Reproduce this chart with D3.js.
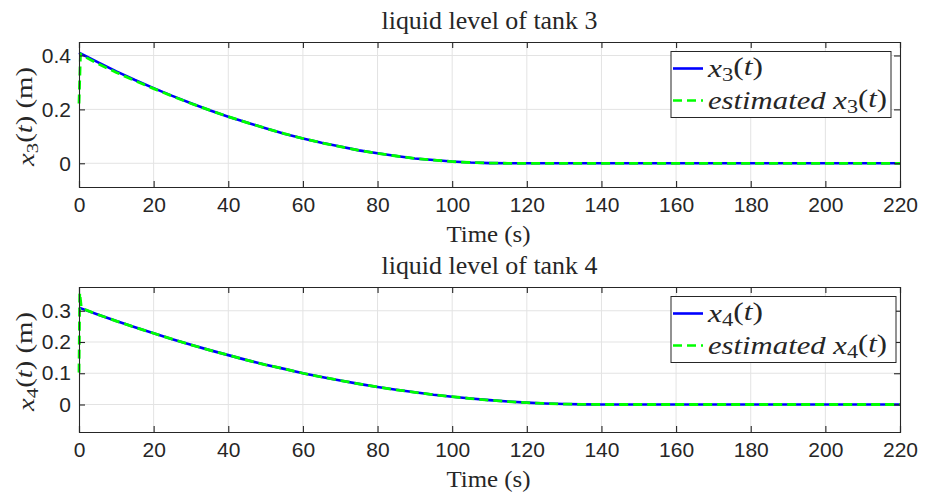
<!DOCTYPE html>
<html lang="en">
<head>
<meta charset="utf-8">
<title>liquid level of tanks 3 and 4</title>
<script src="https://cdn.jsdelivr.net/npm/d3@7/dist/d3.min.js"></script>
<style>
    body { margin: 0; background: #fff; }
    .tick-label { font-family: "Liberation Sans", Arial, sans-serif; font-size: 21px; fill: #262626; }
    .serif { font-family: "Liberation Serif", "Times New Roman", serif; fill: #262626; }
</style>
</head>
<body>
<svg id="chart" width="934" height="493"></svg>
<script>
// sample times (s)
const time = [0, 5, 10, 15, 20, 25, 30, 35, 40, 45, 50, 55, 60, 65, 70, 75, 80, 85, 90, 95,
    100, 105, 110, 115, 120, 125, 130, 135, 140, 145, 150, 155, 160, 165, 170, 175, 180,
    185, 190, 195, 200, 205, 210, 215, 220];

// tank 3 level (m)
const x3 = [0.410, 0.375, 0.341, 0.309, 0.279, 0.250, 0.223, 0.197, 0.173, 0.151, 0.130,
    0.110, 0.092, 0.076, 0.062, 0.048, 0.037, 0.027, 0.018, 0.012, 0.0064, 0.0027, 0.0006,
    0, 0, 0, 0, 0, 0, 0, 0, 0, 0, 0, 0, 0, 0, 0, 0, 0, 0, 0, 0, 0, 0];

// tank 4 level (m)
const x4 = [0.310, 0.288, 0.267, 0.247, 0.228, 0.209, 0.191, 0.174, 0.158, 0.142, 0.127,
    0.114, 0.100, 0.088, 0.077, 0.066, 0.056, 0.047, 0.039, 0.031, 0.025, 0.019, 0.014,
    0.0094, 0.0059, 0.0032, 0.0014, 0.0003, 0, 0, 0, 0, 0, 0, 0, 0, 0, 0, 0, 0, 0, 0, 0, 0, 0];

// observer estimates (with the initial transient near t = 0)
const estTime3 = [0, 0.4, 2, 5, 10, 15, 20, 25, 30, 35, 40, 45, 50, 55, 60, 65, 70, 75, 80,
    85, 90, 95, 100, 105, 110, 115, 120, 140, 160, 180, 200, 220];
const est3 = [0.222, 0.405, 0.392, 0.370, 0.337, 0.306, 0.277, 0.249, 0.222, 0.197, 0.173,
    0.151, 0.130, 0.110, 0.092, 0.076, 0.062, 0.048, 0.037, 0.027, 0.018, 0.012, 0.0064,
    0.0027, 0.0006, 0, 0, 0, 0, 0, 0, 0];

const estTime4 = [0, 0.2, 0.6, 2, 5, 10, 15, 20, 25, 30, 35, 40, 45, 50, 55, 60, 65, 70, 75,
    80, 85, 90, 95, 100, 105, 110, 115, 120, 125, 130, 135, 140, 160, 180, 200, 220];
const est4 = [0.102, 0.357, 0.312, 0.302, 0.288, 0.267, 0.247, 0.228, 0.209, 0.191, 0.174,
    0.158, 0.142, 0.127, 0.114, 0.100, 0.088, 0.077, 0.066, 0.056, 0.047, 0.039, 0.031,
    0.025, 0.019, 0.014, 0.0094, 0.0059, 0.0032, 0.0014, 0.0003, 0, 0, 0, 0, 0];

const xTicks = [0, 20, 40, 60, 80, 100, 120, 140, 160, 180, 200, 220];

const panels = [
    { title: "liquid level of tank 3", sub: "3", top: 42, bottom: 187,
      yDomain: [-0.088, 0.45], yTicks: [0, 0.2, 0.4], legendW: 220,
      series: x3, estT: estTime3, est: est3 },
    { title: "liquid level of tank 4", sub: "4", top: 287, bottom: 432,
      yDomain: [-0.088, 0.376], yTicks: [0, 0.1, 0.2, 0.3], legendW: 225,
      series: x4, estT: estTime4, est: est4 }
];

const left = 79, right = 900;
const svg = d3.select("#chart");
const axisColor = "#262626";
const gridColor = "#e3e3e3";

// math label: x_k(t) with italic x, t and upright subscript
function mathLabel(sel, prefix, sub, suffix) {
    if (prefix) sel.append("tspan").attr("font-style", "italic").text(prefix);
    sel.append("tspan").attr("font-style", "italic").text("x");
    sel.append("tspan").attr("font-size", "0.72em").attr("dy", "0.25em").text(sub);
    sel.append("tspan").attr("dy", "-0.25em").text("(");
    sel.append("tspan").attr("font-style", "italic").text("t");
    sel.append("tspan").text(")" + (suffix || ""));
}

panels.forEach(function (p, i) {
    const x = d3.scaleLinear().domain([0, 220]).range([left, right]);
    const y = d3.scaleLinear().domain(p.yDomain).range([p.bottom, p.top]);
    const g = svg.append("g");

    // grid
    g.append("g").selectAll("line").data(xTicks.slice(1, -1)).enter().append("line")
        .attr("x1", d => x(d)).attr("x2", d => x(d))
        .attr("y1", p.top).attr("y2", p.bottom)
        .attr("stroke", gridColor).attr("stroke-width", 1);
    g.append("g").selectAll("line").data(p.yTicks).enter().append("line")
        .attr("x1", left).attr("x2", right)
        .attr("y1", d => y(d)).attr("y2", d => y(d))
        .attr("stroke", gridColor).attr("stroke-width", 1);

    // clip for data (a little wider, so lines at the edge keep their full width)
    svg.append("clipPath").attr("id", "clip" + i).append("rect")
        .attr("x", left - 3).attr("y", p.top - 3)
        .attr("width", right - left + 6).attr("height", p.bottom - p.top + 6);

    const line = d3.line().x(d => x(d[0])).y(d => y(d[1]));
    const plot = g.append("g").attr("clip-path", "url(#clip" + i + ")");
    plot.append("path")
        .datum(time.map((t, k) => [t, p.series[k]]))
        .attr("d", line).attr("fill", "none")
        .attr("stroke", "#0000ff").attr("stroke-width", 2.6);
    plot.append("path")
        .datum(p.estT.map((t, k) => [t, p.est[k]]))
        .attr("d", line).attr("fill", "none")
        .attr("stroke", "#00ff00").attr("stroke-width", 2.8)
        .attr("stroke-dasharray", "9,5");

    // axes (box with ticks inside on all sides)
    const axB = d3.axisBottom(x).tickValues(xTicks).tickSize(-6).tickPadding(10).tickFormat(d3.format("d"));
    const axT = d3.axisTop(x).tickValues(xTicks).tickSize(-6).tickFormat("");
    const axL = d3.axisLeft(y).tickValues(p.yTicks).tickSize(-6).tickPadding(8).tickFormat(d => d === 0 ? "0" : d3.format(".1f")(d));
    const axR = d3.axisRight(y).tickValues(p.yTicks).tickSize(-6).tickFormat("");

    [[axB, `translate(0,${p.bottom})`], [axT, `translate(0,${p.top})`],
     [axL, `translate(${left},0)`], [axR, `translate(${right},0)`]].forEach(function (a) {
        const ag = g.append("g").attr("transform", a[1]).call(a[0]);
        ag.select(".domain").attr("stroke", axisColor).attr("stroke-width", 1.1);
        ag.selectAll(".tick line").attr("stroke", axisColor).attr("stroke-width", 1.1);
        ag.selectAll(".tick text").attr("class", "tick-label").attr("fill", axisColor);
    });

    // title
    g.append("text").attr("class", "serif")
        .attr("x", (left + right) / 2).attr("y", p.top - 13)
        .attr("text-anchor", "middle").attr("font-size", 25)
        .attr("textLength", 216).attr("lengthAdjust", "spacingAndGlyphs")
        .text(p.title);

    // x label
    g.append("text").attr("class", "serif")
        .attr("x", (left + right) / 2 - 1).attr("y", p.bottom + 55)
        .attr("text-anchor", "middle").attr("font-size", 24)
        .attr("textLength", 84).attr("lengthAdjust", "spacingAndGlyphs")
        .text("Time (s)");

    // y label
    const yl = g.append("text").attr("class", "serif")
        .attr("transform", `translate(34,${(p.top + p.bottom) / 2 + 2}) rotate(-90)`)
        .attr("text-anchor", "middle").attr("font-size", 24)
        .attr("textLength", 99).attr("lengthAdjust", "spacingAndGlyphs");
    mathLabel(yl, "", p.sub, " (m)");

    // legend
    const lg = g.append("g");
    const bx = 671, by = p.top + 9.5;
    const rows = [
        { pre: "", color: "#0000ff", dash: null, w: 55 },
        { pre: "estimated ", color: "#00ff00", dash: "9,5", w: 179 }
    ];
    lg.append("rect")
        .attr("x", bx).attr("y", by).attr("width", p.legendW).attr("height", 66)
        .attr("fill", "#fff").attr("stroke", axisColor).attr("stroke-width", 1);
    rows.forEach(function (r, k) {
        const cy = by + 17 + k * 32;
        lg.append("line")
            .attr("x1", bx + 2).attr("x2", bx + 32).attr("y1", cy).attr("y2", cy)
            .attr("stroke", r.color).attr("stroke-width", 2.6)
            .attr("stroke-dasharray", r.dash);
        const t = lg.append("text").attr("class", "serif")
            .attr("x", bx + 37).attr("y", cy + 8).attr("font-size", 25)
            .attr("textLength", r.w).attr("lengthAdjust", "spacingAndGlyphs");
        mathLabel(t, r.pre, p.sub, "");
    });
});
</script>
</body>
</html>
